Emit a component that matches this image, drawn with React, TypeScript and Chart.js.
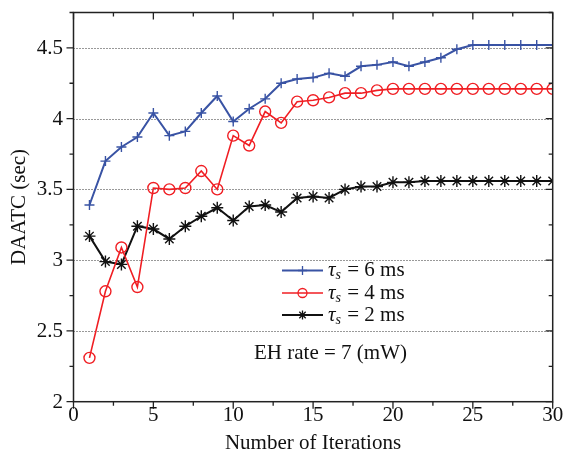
import React, { useEffect, useRef } from "react";
import { Chart, registerables } from "chart.js";

Chart.register(...registerables);

const iterations = [1, 2, 3, 4, 5, 6, 7, 8, 9, 10, 11, 12, 13, 14, 15, 16, 17, 18, 19, 20, 21, 22, 23, 24, 25, 26, 27, 28, 29, 30];
const tau6 = [3.39, 3.70, 3.80, 3.87, 4.04, 3.88, 3.91, 4.04, 4.16, 3.98, 4.07, 4.14, 4.25, 4.28, 4.29, 4.32, 4.30, 4.37, 4.38, 4.40, 4.37, 4.40, 4.43, 4.49, 4.52, 4.52, 4.52, 4.52, 4.52, 4.52];
const tau4 = [2.31, 2.78, 3.09, 2.81, 3.51, 3.50, 3.51, 3.63, 3.50, 3.88, 3.81, 4.05, 3.97, 4.12, 4.13, 4.15, 4.18, 4.18, 4.20, 4.21, 4.21, 4.21, 4.21, 4.21, 4.21, 4.21, 4.21, 4.21, 4.21, 4.21];
const tau2 = [3.17, 2.99, 2.97, 3.24, 3.22, 3.15, 3.24, 3.31, 3.37, 3.28, 3.38, 3.39, 3.34, 3.44, 3.45, 3.44, 3.50, 3.52, 3.52, 3.55, 3.55, 3.56, 3.56, 3.56, 3.56, 3.56, 3.56, 3.56, 3.56, 3.56];
const seriesValues = ["6", "4", "2"];
const xTicks = [0, 5, 10, 15, 20, 25, 30];
const yTicks = [2, 2.5, 3, 3.5, 4, 4.5];
const xTitle = "Number of Iterations";
const yTitle = "DAATC (sec)";
const noteText = "EH rate = 7 (mW)";

const BLUE = "#3953a4";
const RED = "#f01e23";
const BLACK = "#111111";
const FONT = "'Liberation Serif', serif";

const styles = [
  { color: BLUE, pointStyle: "cross", radius: 5, width: 2 },
  { color: RED, pointStyle: "circle", radius: 5.5, width: 1.6 },
  { color: BLACK, pointStyle: "star", radius: 6, width: 2 },
];

function drawMarker(ctx: CanvasRenderingContext2D, style: string, cx: number, cy: number, r: number, color: string) {
  ctx.save();
  ctx.strokeStyle = color;
  ctx.lineWidth = 1.3;
  ctx.beginPath();
  if (style === "cross") {
    ctx.moveTo(cx - r, cy);
    ctx.lineTo(cx + r, cy);
    ctx.moveTo(cx, cy - r);
    ctx.lineTo(cx, cy + r);
  } else if (style === "circle") {
    ctx.arc(cx, cy, r, 0, Math.PI * 2);
  } else {
    const d = r * 0.7071;
    ctx.moveTo(cx - d, cy - d);
    ctx.lineTo(cx + d, cy + d);
    ctx.moveTo(cx - d, cy + d);
    ctx.lineTo(cx + d, cy - d);
    ctx.moveTo(cx - r, cy);
    ctx.lineTo(cx + r, cy);
    ctx.moveTo(cx, cy - r);
    ctx.lineTo(cx, cy + r);
  }
  ctx.stroke();
  ctx.restore();
}

const decorPlugin = {
  id: "decor",
  beforeDatasetsDraw(chart: any) {
    const { ctx, chartArea: a, scales } = chart;
    const y = scales.y;
    ctx.save();
    ctx.strokeStyle = "#333";
    ctx.lineWidth = 1;
    ctx.setLineDash([1, 2]);
    for (const v of yTicks) {
      if (v === 2) continue;
      const py = Math.round(y.getPixelForValue(v)) + 0.5;
      ctx.beginPath();
      ctx.moveTo(a.left, py);
      ctx.lineTo(a.right, py);
      ctx.stroke();
    }
    ctx.restore();
  },
  afterDatasetsDraw(chart: any) {
    const { ctx, chartArea: a, scales } = chart;
    const x = scales.x;
    const y = scales.y;
    ctx.save();
    ctx.strokeStyle = "#222";
    ctx.lineWidth = 1.5;
    ctx.setLineDash([]);
    ctx.strokeRect(a.left, a.top, a.right - a.left, a.bottom - a.top);
    ctx.lineWidth = 1.3;
    for (let v = 0; v <= 30; v += 2.5) {
      const major = v % 5 === 0;
      const len = major ? 7 : 4;
      const px = x.getPixelForValue(v);
      ctx.beginPath();
      ctx.moveTo(px, a.bottom);
      ctx.lineTo(px, a.bottom + len);
      ctx.moveTo(px, a.top);
      ctx.lineTo(px, a.top + len);
      ctx.stroke();
    }
    for (let v = 2; v <= 4.751; v += 0.25) {
      const major = Math.abs(v * 2 - Math.round(v * 2)) < 1e-6;
      const len = major ? 7 : 4;
      const py = y.getPixelForValue(v);
      ctx.beginPath();
      ctx.moveTo(a.left, py);
      ctx.lineTo(a.left - len, py);
      ctx.moveTo(a.right, py);
      ctx.lineTo(a.right - len, py);
      ctx.stroke();
    }

    // tick labels
    ctx.fillStyle = "#111";
    ctx.font = `21px ${FONT}`;
    ctx.textAlign = "center";
    ctx.textBaseline = "middle";
    for (const v of xTicks) {
      ctx.fillText(String(v), x.getPixelForValue(v), 415);
    }
    ctx.textAlign = "right";
    for (const v of yTicks) {
      ctx.fillText(String(v), 63, y.getPixelForValue(v) + 0.5);
    }
    ctx.restore();

    ctx.save();
    const rows = [270.5, 293, 315];
    seriesValues.forEach((val, i) => {
      const st = styles[i];
      const ry = rows[i];
      ctx.strokeStyle = st.color;
      ctx.lineWidth = st.width;
      ctx.beginPath();
      ctx.moveTo(282, ry);
      ctx.lineTo(323, ry);
      ctx.stroke();
      drawMarker(ctx, st.pointStyle, 302.5, ry, 4.5, st.color);
      ctx.fillStyle = "#111";
      ctx.textBaseline = "middle";
      ctx.textAlign = "left";
      ctx.font = `italic 21px ${FONT}`;
      ctx.fillText("\u03c4", 328, ry);
      const tw = ctx.measureText("\u03c4").width;
      ctx.font = `italic 14px ${FONT}`;
      ctx.fillText("s", 328 + tw, ry + 5);
      const sw = ctx.measureText("s").width;
      ctx.font = `21px ${FONT}`;
      ctx.fillText(` = ${val} ms`, 328 + tw + sw + 1, ry);
    });

    ctx.font = `21px ${FONT}`;
    ctx.fillStyle = "#111";
    ctx.textAlign = "left";
    ctx.textBaseline = "middle";
    ctx.fillText(noteText, 254, 353);

    ctx.textAlign = "center";
    ctx.fillText(xTitle, 313, 443);
    ctx.translate(19, 207);
    ctx.rotate(-Math.PI / 2);
    ctx.fillText(yTitle, 0, 0);
    ctx.restore();
  },
};

export default function App() {
  const ref = useRef<HTMLCanvasElement | null>(null);
  useEffect(() => {
    document.body.style.margin = "0";
    const canvas = ref.current;
    if (!canvas) return;
    const series = [tau6, tau4, tau2];
    const chart = new Chart(canvas, {
      type: "line",
      data: {
        datasets: series.map((vals, i) => ({
          label: `tau_s = ${seriesValues[i]} ms`,
          data: iterations.map((it, j) => ({ x: it, y: vals[j] })),
          borderColor: styles[i].color,
          backgroundColor: "transparent",
          borderWidth: styles[i].width,
          pointStyle: styles[i].pointStyle as any,
          pointRadius: styles[i].radius,
          pointBorderColor: styles[i].color,
          pointBackgroundColor: "transparent",
          pointBorderWidth: 1.4,
          tension: 0,
        })),
      },
      options: {
        responsive: false,
        animation: false,
        devicePixelRatio: 1,
        layout: { padding: { top: 12.5, right: 12.3, left: 0, bottom: 0 } },
        plugins: { legend: { display: false }, tooltip: { enabled: false } },
        scales: {
          x: {
            type: "linear",
            min: 0,
            max: 30,
            grid: { display: false, drawTicks: false },
            border: { display: false },
            afterBuildTicks: (s: any) => {
              s.ticks = xTicks.map((v) => ({ value: v }));
            },
            afterFit: (s: any) => {
              s.height = 55.3;
            },
            ticks: { display: false },
          },
          y: {
            type: "linear",
            min: 2,
            max: 4.75,
            grid: { display: false, drawTicks: false },
            border: { display: false },
            afterBuildTicks: (s: any) => {
              s.ticks = yTicks.map((v) => ({ value: v }));
            },
            afterFit: (s: any) => {
              s.width = 73.5;
            },
            ticks: { display: false },
          },
        },
      },
      plugins: [decorPlugin],
    });
    return () => chart.destroy();
  }, []);
  return (
    <div style={{ width: 565, height: 457 }}>
      <canvas ref={ref} width={565} height={457} style={{ display: "block" }} />
    </div>
  );
}
